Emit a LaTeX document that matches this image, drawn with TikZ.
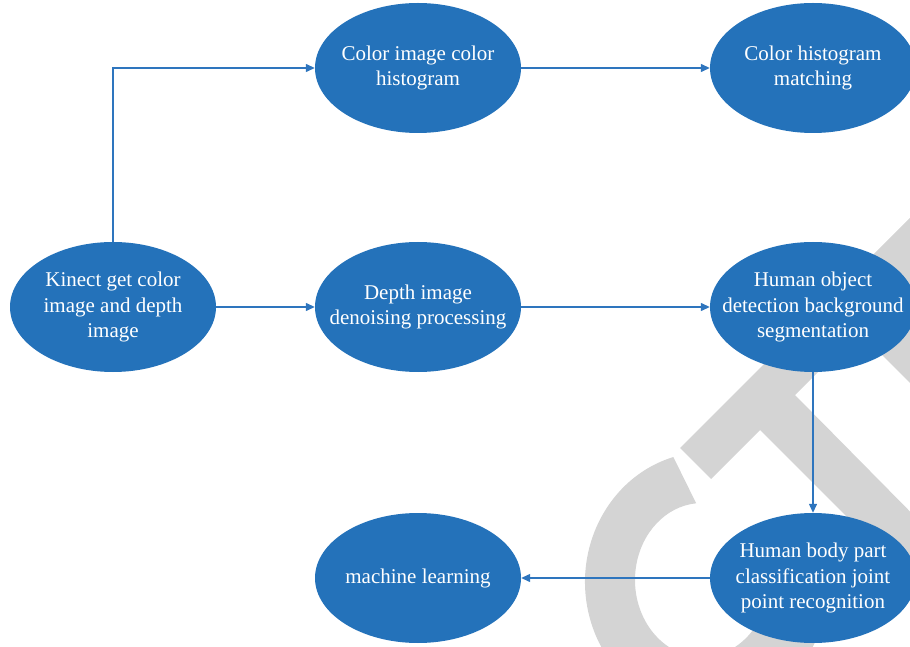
\documentclass[tikz,border=0pt]{standalone}
\usepackage{fontspec}
\setmainfont{Liberation Serif}
\usetikzlibrary{shapes.geometric,arrows.meta,calc}
\definecolor{nodeblue}{RGB}{36,114,186}
\definecolor{linkblue}{RGB}{46,117,190}
\definecolor{markgray}{RGB}{212,212,212}
\begin{document}
\begin{tikzpicture}[x=1pt,y=1pt,
  blob/.style={ellipse,fill=nodeblue,draw=none,minimum width=206,minimum height=130,inner sep=0pt},
  caption/.style={text=white,align=center,font=\fontsize{21}{25.5}\selectfont,inner sep=0pt},
  link/.style={draw=linkblue,line width=1.3pt,-{Triangle[length=9pt,width=8pt]}}]
\path[use as bounding box,clip] (0,0) rectangle (910,646);

% background mark
\begin{scope}[fill=markgray]
  \fill (680,198) -- (711,167) -- (1001,457) -- (1000,518) -- cycle;
  \fill (759,217) -- (794,252) -- (1096,-54) -- (1030,-54) -- cycle;
  \fill (827.5,345.5) -- (1000,518) -- (1000,173) -- cycle;
  \fill ($(707,64)+(106:122 and 130)$)
        arc[start angle=106,end angle=350,x radius=122,y radius=130]
        -- ($(702,66)+(350:67 and 77)$)
        arc[start angle=350,end angle=95,x radius=67,y radius=77]
        -- cycle;
\end{scope}

% process steps
\node[blob] (kin) at (113,339) {};
\node[blob] (cch) at (418,578) {};
\node[blob] (chm) at (813,578) {};
\node[blob] (dep) at (418,339) {};
\node[blob] (hod) at (813,339) {};
\node[blob] (hbp) at (813,68) {};
\node[blob] (ml)  at (418,68) {};

\node[caption] (kint) at (kin.center) {Kinect get color\\image and depth\\image};
\node[caption] (ccht) at (cch.center) {Color image color\\histogram};
\node[caption] (chmt) at (chm.center) {Color histogram\\matching};
\node[caption] (dept) at (dep.center) {Depth image\\denoising processing};
\node[caption] (hodt) at (hod.center) {Human object\\detection background\\segmentation};
\node[caption] (hbpt) at (hbp.center) {Human body part\\classification joint\\point recognition};
\node[caption] (mlt)  at (ml.center)  {machine learning};

% flow
\draw[link] (kin.north) |- (cch.west);
\draw[link] (kin.east) -- (dep.west);
\draw[link] (cch.east) -- (chm.west);
\draw[link] (dep.east) -- (hod.west);
\draw[link] (hod.south) -- (hbp.north);
\draw[link] (hbp.west) -- (ml.east);
\end{tikzpicture}
\end{document}
